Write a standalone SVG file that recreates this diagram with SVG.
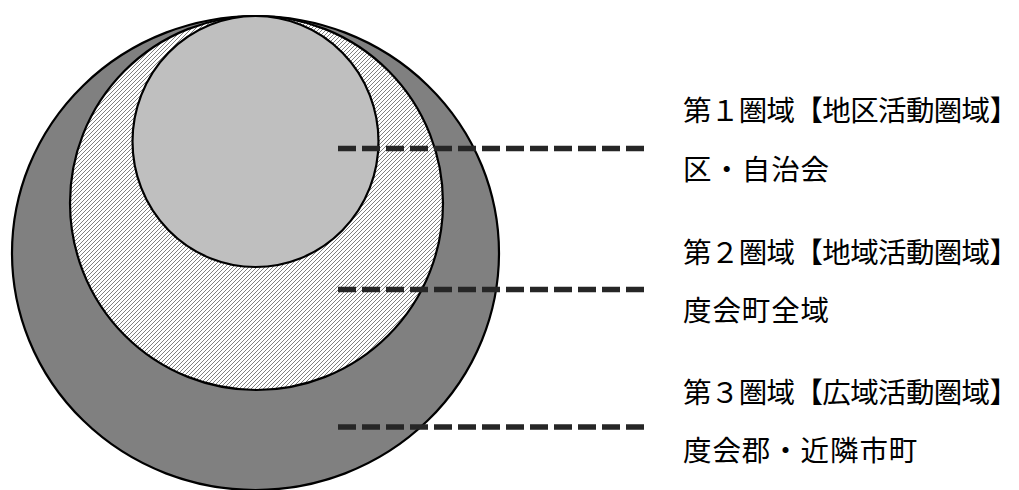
<svg xmlns="http://www.w3.org/2000/svg" width="1019" height="490" viewBox="0 0 1019 490">
<defs>
<pattern id="hatch" width="4" height="4" patternUnits="userSpaceOnUse">
<rect width="4" height="4" fill="#ffffff"/>
<path d="M-1,1 L1,-1 M0,4 L4,0 M3,5 L5,3" stroke="#808080" stroke-width="1"/>
</pattern>
</defs>
<style>
.ring{stroke:#000;stroke-width:2.2}
.dash{stroke:#262626;stroke-width:5.5;stroke-dasharray:18 6;fill:none}
text{font-family:"Noto Sans CJK JP","Noto Sans CJK SC",sans-serif;font-size:28.5px;letter-spacing:0.9px;fill:#000}
text.long{letter-spacing:0}
</style>
<g id="area3"><ellipse class="ring" cx="255.5" cy="253" rx="243.5" ry="237" fill="#808080"/></g>
<g id="area2"><ellipse class="ring" cx="256.5" cy="203" rx="186.5" ry="187" fill="url(#hatch)"/></g>
<g id="area1"><ellipse class="ring" cx="255.5" cy="141.5" rx="123" ry="125.5" fill="#bfbfbf"/></g>
<g id="connectors">
<line class="dash" x1="338" y1="148.5" x2="645" y2="148.5"/>
<line class="dash" x1="338" y1="289.5" x2="645" y2="289.5"/>
<line class="dash" x1="338" y1="427" x2="645" y2="427"/>
</g>
<g id="label1">
<text class="long" x="683" y="121" textLength="335" lengthAdjust="spacing">第１圏域【地区活動圏域】</text>
<text x="683" y="180">区・自治会</text>
</g>
<g id="label2">
<text class="long" x="683" y="263" textLength="335" lengthAdjust="spacing">第２圏域【地域活動圏域】</text>
<text x="683" y="321">度会町全域</text>
</g>
<g id="label3">
<text class="long" x="683" y="403" textLength="335" lengthAdjust="spacing">第３圏域【広域活動圏域】</text>
<text x="683" y="461">度会郡・近隣市町</text>
</g>
</svg>
